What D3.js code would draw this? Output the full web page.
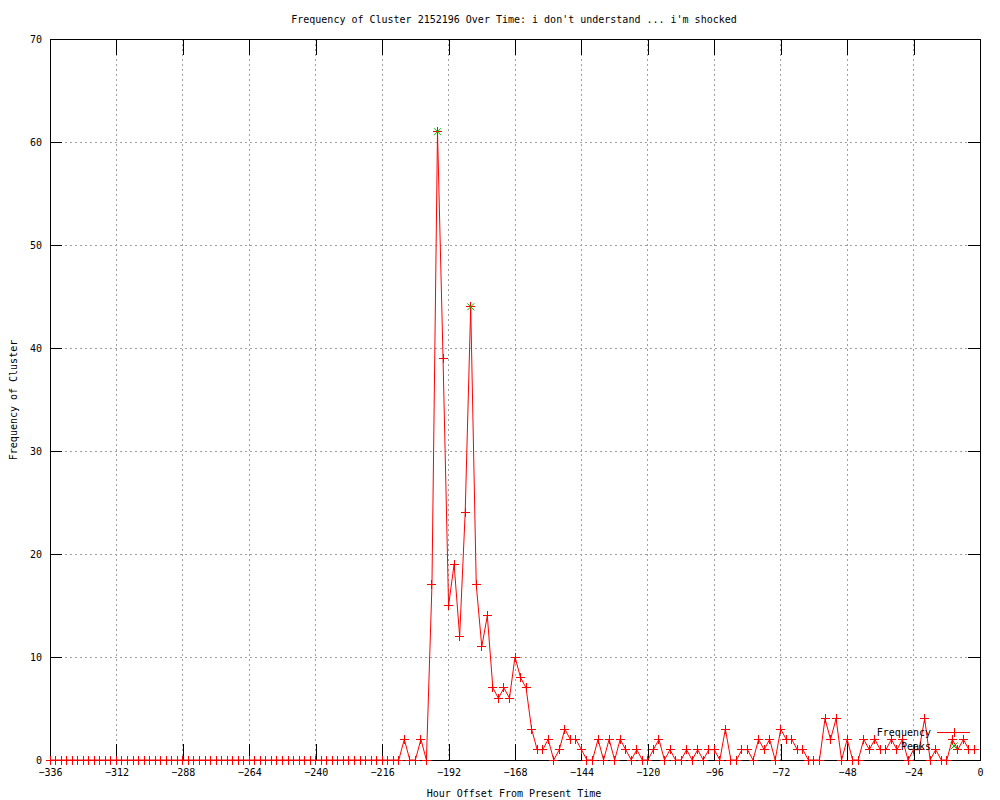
<!DOCTYPE html>
<html>
<head>
<meta charset="utf-8">
<script src="https://cdn.jsdelivr.net/npm/d3@7"></script>
<style>
  body { margin: 0; background: #fff; }
  text { font-family: "DejaVu Sans Mono", monospace; font-size: 10px; fill: #000; }
</style>
</head>
<body>
<script>
"use strict";

(function() {

let width = 1000;
let height = 800;

// hours before now, one sample every 2 hours
let hours = d3.range(-336, 0, 2);

// frequency per sample (-336 .. -2)
let freq = [
    0,0,0,0,0,0,0,0,0,0, 0,0,0,0,0,0,0,0,0,0,   // -336 .. -298
    0,0,0,0,0,0,0,0,0,0, 0,0,0,0,0,0,0,0,0,0,   // -296 .. -258
    0,0,0,0,0,0,0,0,0,0, 0,0,0,0,0,0,0,0,0,0,   // -256 .. -218
    0,0,0,0,2,0,0,2,0,17,                        // -216 .. -198
    61,39,15,19,12,24,44,17,11,14,               // -196 .. -178
    7,6,7,6,10,8,7,3,1,1,                        // -176 .. -158
    2,0,1,3,2,2,1,0,0,2,                         // -156 .. -138
    0,2,0,2,1,0,1,0,0,1,                         // -136 .. -118
    2,0,1,0,0,1,0,1,0,1,                         // -116 .. -98
    1,0,3,0,0,1,1,0,2,1,                         // -96 .. -78
    2,0,3,2,2,1,1,0,0,0,                         // -76 .. -58
    4,2,4,0,2,0,0,2,1,2,                         // -56 .. -38
    1,1,2,1,2,0,1,1,4,0,                         // -36 .. -18
    1,0,0,2,1,2,1,1                              // -16 .. -2
];

let peakHours = [-196, -184];
let peakValues = [61, 44];

let xTicks = [-336, -312, -288, -264, -240, -216, -192, -168, -144, -120, -96, -72, -48, -24, 0];
let yTicks = [0, 10, 20, 30, 40, 50, 60, 70];

let data = hours.map(function(h, i) { return { h: h, v: freq[i] }; });
let peaks = peakHours.map(function(h, i) { return { h: h, v: peakValues[i] }; });

let left = 50, right = 980, top = 39, bottom = 760;

let x = d3.scaleLinear().domain([-336, 0]).range([left, right]);
let y = d3.scaleLinear().domain([0, 70]).range([bottom, top]);

let svg = d3.select('body')
    .append('svg')
    .attr('width', width)
    .attr('height', height);

// grid
let grid = svg.append('g')
    .attr('stroke', '#a0a0a0')
    .attr('stroke-dasharray', '2,3')
    .attr('shape-rendering', 'crispEdges');

grid.selectAll('.gx')
    .data(xTicks.filter(function(d) { return d > -336 && d < 0; }))
    .enter()
    .append('line')
    .attr('x1', function(d) { return x(d); })
    .attr('x2', function(d) { return x(d); })
    .attr('y1', top)
    .attr('y2', bottom);

grid.selectAll('.gy')
    .data(yTicks.filter(function(d) { return d > 0 && d < 70; }))
    .enter()
    .append('line')
    .attr('x1', left)
    .attr('x2', right)
    .attr('y1', function(d) { return y(d); })
    .attr('y2', function(d) { return y(d); });

// axes with mirrored tics
let xAxisB = d3.axisBottom(x).tickValues(xTicks).tickSize(-16).tickPadding(9).tickSizeOuter(0);
let xAxisT = d3.axisTop(x).tickValues(xTicks).tickSize(-16).tickFormat('').tickSizeOuter(0);
let yAxisL = d3.axisLeft(y).tickValues(yTicks).tickSize(-12).tickPadding(8).tickSizeOuter(0);
let yAxisR = d3.axisRight(y).tickValues(yTicks).tickSize(-12).tickFormat('').tickSizeOuter(0);

function styleAxis(g) {
    g.select('.domain').remove();
    g.selectAll('line').attr('stroke', '#000').attr('shape-rendering', 'crispEdges');
    g.selectAll('text')
        .attr('font-family', '"DejaVu Sans Mono", monospace')
        .attr('font-size', 10)
        .attr('fill', '#000');
}

svg.append('g').attr('transform', 'translate(0,' + bottom + ')').call(xAxisB).call(styleAxis);
svg.append('g').attr('transform', 'translate(0,' + top + ')').call(xAxisT).call(styleAxis);
svg.append('g').attr('transform', 'translate(' + left + ',0)').call(yAxisL).call(styleAxis);
svg.append('g').attr('transform', 'translate(' + right + ',0)').call(yAxisR).call(styleAxis);

svg.append('rect')
    .attr('x', left)
    .attr('y', top)
    .attr('width', right - left)
    .attr('height', bottom - top)
    .attr('fill', 'none')
    .attr('stroke', '#000')
    .attr('shape-rendering', 'crispEdges');

// frequency line
let line = d3.line()
    .x(function(d) { return x(d.h); })
    .y(function(d) { return y(d.v); });

svg.append('path')
    .datum(data)
    .attr('d', line)
    .attr('fill', 'none')
    .attr('stroke', '#ff0000')
    .attr('stroke-width', 1);

let plus = 'M-4.5,0H4.5M0,-4.5V4.5';
let cross = 'M-3.5,-3.5L3.5,3.5M-3.5,3.5L3.5,-3.5';

svg.selectAll('.mark')
    .data(data)
    .enter()
    .append('path')
    .attr('class', 'mark')
    .attr('transform', function(d) { return 'translate(' + x(d.h) + ',' + y(d.v) + ')'; })
    .attr('d', plus)
    .attr('stroke', '#ff0000')
    .attr('fill', 'none')
    .attr('shape-rendering', 'crispEdges');

svg.selectAll('.peak')
    .data(peaks)
    .enter()
    .append('path')
    .attr('class', 'peak')
    .attr('transform', function(d) { return 'translate(' + x(d.h) + ',' + y(d.v) + ')'; })
    .attr('d', cross)
    .attr('stroke', '#00c000')
    .attr('fill', 'none');

// legend
let legend = svg.append('g');
legend.append('text')
    .attr('x', 931).attr('y', 732).attr('dy', '0.35em')
    .attr('text-anchor', 'end')
    .text('Frequency');
legend.append('line')
    .attr('x1', 937).attr('x2', 970).attr('y1', 732).attr('y2', 732)
    .attr('stroke', '#ff0000')
    .attr('shape-rendering', 'crispEdges');
legend.append('path')
    .attr('transform', 'translate(954,732)')
    .attr('d', plus)
    .attr('stroke', '#ff0000')
    .attr('shape-rendering', 'crispEdges');
legend.append('text')
    .attr('x', 931).attr('y', 746).attr('dy', '0.35em')
    .attr('text-anchor', 'end')
    .text('Peaks');
legend.append('path')
    .attr('transform', 'translate(954,746)')
    .attr('d', cross)
    .attr('stroke', '#00c000');

// titles
svg.append('text')
    .attr('x', 514).attr('y', 19).attr('dy', '0.35em')
    .attr('text-anchor', 'middle')
    .text("Frequency of Cluster 2152196 Over Time: i don't understand ... i'm shocked");

svg.append('text')
    .attr('x', 514).attr('y', 793).attr('dy', '0.35em')
    .attr('text-anchor', 'middle')
    .text('Hour Offset From Present Time');

svg.append('text')
    .attr('transform', 'translate(13,400) rotate(-90)')
    .attr('dy', '0.35em')
    .attr('text-anchor', 'middle')
    .text('Frequency of Cluster');

})();
</script>
</body>
</html>
